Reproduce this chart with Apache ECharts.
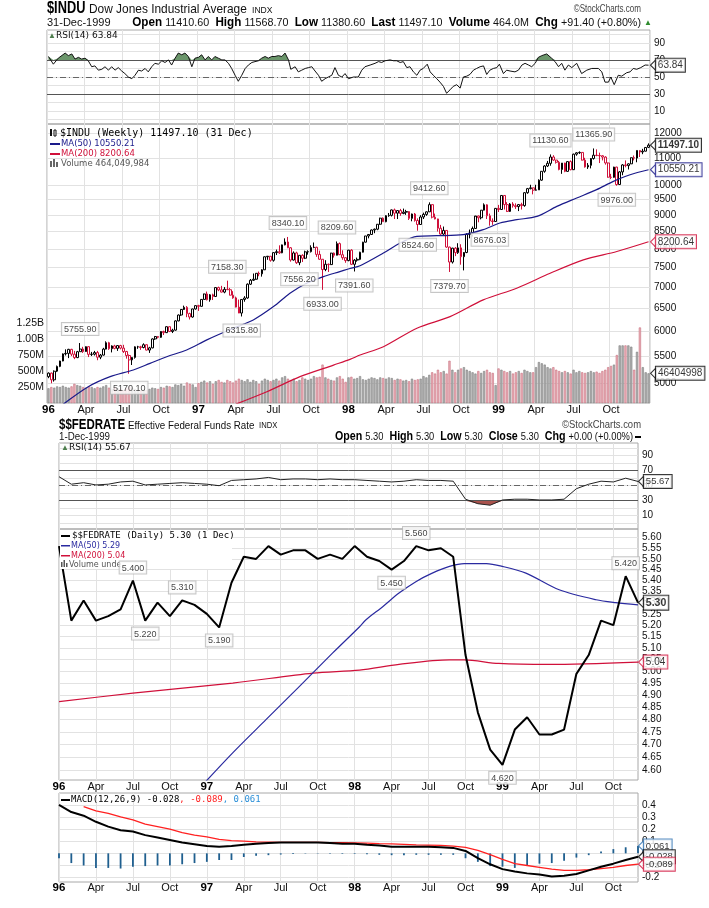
<!DOCTYPE html>
<html><head><meta charset="utf-8">
<script src="https://cdn.jsdelivr.net/npm/echarts@6/dist/echarts.min.js"></script>
<style>html,body{margin:0;padding:0;background:#fff}#c{width:709px;height:908px}</style>
</head><body><div id="c"></div>
<script>
// ===================== DATA =====================
// Weekly $INDU candles, Jan 5 1996 .. Dec 31 1999 (209 weeks)
const weekOpen = [5117,5181,5061,5216,5304,5405,5541,5551,5630,5536,5470,5584,5636,5587,5683,5532,5535,5567,5478,5518,5635,5762,5643,5697,5649,5705,5655,5588,5510,5426,5473,5680,5681,5666,5722,5616,5659,5839,5888,5872,5993,5969,6094,5993,6021,6219,6348,6472,6521,6380,6304,6484,6560,6544,6704,6833,6696,6813,6773,6988,6931,6878,6945,6935,6804,6740,6526,6392,6703,6738,7071,7169,7194,7345,7331,7435,7782,7797,7687,7896,7921,7890,8113,8195,8031,7694,7887,7622,7822,7742,7917,7922,8038,8045,7847,7715,7442,7581,7572,7882,7823,8149,7838,7757,7679,7965,7580,7691,7712,7907,8190,8370,8413,8546,8570,8719,8907,8797,8984,8995,9167,9064,9147,9055,9096,9114,8900,9037,8834,8712,8944,9025,9106,9338,8938,8883,8598,8425,8533,8051,7640,8020,7895,8028,7784,7900,8416,8452,8592,8975,8919,9159,9333,8982,8821,8804,9217,9181,9643,9340,9120,9358,9304,9274,9340,9307,9736,9876,9904,9822,9832,10173,10493,10689,10789,11031,10913,10829,10560,10800,10490,10855,10552,11140,11193,11209,10911,10655,10714,10973,11100,11090,11079,11028,10803,10279,10273,10649,10019,10470,10729,10704,10770,11003,10989,11286,11225,11257,11410.6];
const weekHigh = [5194,5190,5230,5320,5410,5550,5630,5640,5640,5600,5600,5755.9,5680,5690,5690,5580,5600,5600,5540,5660,5790,5780,5710,5720,5710,5720,5720,5600,5530,5480,5690,5700,5700,5750,5730,5680,5850,5900,5900,6000,6010,6100,6100,6050,6230,6360,6480,6560,6550,6400,6490,6570,6580,6710,6840,6890,6830,6840,6990,7010,7030,7000,7158.3,6980,6900,6770,6700,6710,6780,7090,7200,7340,7350,7390,7450,7790,7800,7800,7900,7980,8100,8120,8300,8340.1,8050,7930,7920,7830,7850,7950,7960,8100,8180,8060,7950,7720,7690,7600,7890,7900,8209.6,8180,7960,7770,7970,7990,7720,7760,7920,8200,8370,8420,8560,8590,8720,8920,8930,9000,9070,9180,9210,9140,9200,9210,9170,9130,9050,9070,8900,9000,9080,9120,9412.6,9350,9050,8890,8700,8650,8540,8060,8030,8050,8160,8130,7800,8450,8560,8650,8960,8990,9160,9380,9350,9050,8900,9230,9330,9650,9650,9420,9390,9420,9380,9360,9400,9750,9900,10010,9910,10010,10200,10500,10720,10880,11130.6,11100,10920,10880,10800,10810,10860,10900,11160,11220,11250,11220,11000,10800,10990,11365.9,11330,11200,11100,11060,10820,10400,10660,10660,10500,10760,10900,10790,11010,11090,11290,11290,11350,11420,11568.7];
const weekLow = [5090,5000,5030,5200,5290,5400,5510,5460,5500,5440,5460,5580,5560,5580,5480,5500,5510,5420,5440,5510,5630,5620,5570,5630,5600,5630,5560,5450,5170.1,5330,5450,5640,5620,5650,5610,5560,5650,5820,5850,5860,5920,5960,5980,5960,6010,6210,6330,6460,6300,6250,6290,6470,6440,6540,6700,6680,6650,6690,6760,6900,6870,6850,6930,6800,6720,6520,6390,6315.8,6650,6720,7050,7150,7180,7270,7260,7430,7700,7650,7650,7830,7860,7880,8100,8020,7650,7680,7590,7556.2,7640,7720,7840,7900,8020,7780,7700,6933,7400,7380,7560,7760,7820,7830,7700,7620,7660,7560,7391.6,7650,7690,7900,8180,8300,8400,8450,8540,8700,8800,8780,8950,8960,8880,8880,8980,9030,9010,8850,8810,8800,8524.6,8700,8880,8980,9100,8900,8870,8500,8400,8400,8030,7379.7,7600,7800,7860,7570,7420,7880,8300,8350,8580,8780,8870,9150,8880,8676.03,8700,8800,9100,9170,9180,9100,9100,9240,9200,9130,9180,9270,9700,9850,9680,9810,9830,10150,10440,10650,10700,10880,10780,10530,10400,10460,10480,10530,10540,11080,11150,10900,10630,10580,10600,10930,11060,10800,10900,10740,10260,10210,10260,9976,10000,10350,10640,10560,10760,10900,10830,11030,11140,11250,11380.6];
const weekClose = [5181,5061,5216,5304,5405,5541,5551,5630,5536,5470,5584,5636,5587,5683,5532,5535,5567,5478,5518,5635,5762,5643,5697,5649,5705,5655,5588,5510,5426,5473,5680,5681,5666,5722,5616,5659,5839,5888,5872,5993,5969,6094,5993,6021,6219,6348,6472,6521,6380,6304,6484,6560,6544,6704,6833,6696,6813,6773,6988,6931,6878,6945,6935,6804,6740,6526,6392,6703,6738,7071,7169,7194,7345,7331,7435,7782,7797,7687,7896,7921,7890,8113,8195,8031,7694,7887,7622,7822,7742,7917,7922,8038,8045,7847,7715,7442,7581,7572,7882,7823,8149,7838,7757,7679,7965,7580,7691,7712,7907,8190,8370,8413,8546,8570,8719,8907,8797,8984,8995,9167,9064,9147,9055,9096,9114,8900,9037,8834,8712,8944,9025,9106,9338,8938,8883,8598,8425,8533,8051,7640,8020,7895,8028,7784,7900,8416,8452,8592,8975,8919,9159,9333,8982,8821,8804,9217,9181,9643,9340,9120,9358,9304,9274,9340,9307,9736,9876,9904,9822,9832,10173,10493,10689,10789,11031,10913,10829,10560,10800,10490,10855,10552,11140,11193,11209,10911,10655,10714,10973,11100,11090,11079,11028,10803,10279,10273,10649,10019,10470,10729,10704,10770,11003,10989,11286,11225,11257,11405,11497.1];
// weekly volume, millions
const weekVolume = [230,250,240,260,250,270,250,240,260,300,280,270,250, 240,260,250,230,250,240,260,280,240,220,250,230,220, 200,230,260,240,220,200,190,210,200,220,240,230,220, 250,240,270,260,250,290,280,300,270,320,300,290,250, 310,330,350,320,340,300,340,360,330,320,360,340,320, 350,380,360,340,370,330,360,340,300,350,380,360,340, 360,380,350,400,420,380,360,380,340,360,400,380,360, 380,420,400,410,600,400,380,360,350,400,420,380,330, 400,410,380,390,420,370,360,380,400,390,370,400,390, 380,400,390,360,380,370,350,360,340,380,360,370,380, 420,400,440,480,460,520,480,500,460,660,520,480,520, 540,560,520,500,480,460,500,470,500,520,480,470,280, 540,520,500,480,500,460,480,500,470,520,500,480,480, 560,640,620,600,560,540,560,520,500,480,500,480,460, 520,480,500,480,470,480,500,480,490,470,500,520,560, 580,600,750,900,900,900,900,880,520,800,1180,560,480,464.05];
// [week index, value] readings
const ma50Weekly = [[5.2,4650],[13.8,4940],[21.4,5117],[29.4,5238],[35.2,5361],[41,5487],[47.9,5617],[54.9,5819],[64.1,6062],[71,6240],[78,6538],[83.7,6851],[89.5,7094],[95.3,7260],[101,7388],[104.5,7470],[108,7540],[116.1,7883],[121.9,8165],[127.7,8357],[134.6,8377],[143.8,8406],[150.7,8555],[156.5,8758],[162.3,8859],[169.3,8962],[176.2,9281],[183.1,9558],[190,9840],[195.8,10129],[201.6,10369],[208,10550.21]];
const ma200Weekly = [[65,4650],[75.7,4855],[87.2,5117],[98.8,5329],[104.5,5436],[108,5519],[116.1,5682],[127.7,6062],[139.2,6312],[150.7,6693],[162.3,6972],[173.9,7347],[185.4,7699],[197,7928],[208,8200.64]];
const rsiWeekly = [[0,74],[1.7,65],[3.4,72],[5.8,78],[6.9,75],[8.1,77],[9.2,71],[10.4,73],[11.5,71],[12.7,72],[13.8,69],[15,62],[16.1,63],[17.3,58],[18.5,59],[19.6,62],[20.8,58],[21.9,62],[23.1,58],[24.2,61],[25.4,57],[26.5,54],[27.7,50],[28.9,48],[30,52],[31.2,58],[32.3,57],[33.5,60],[34.6,56],[35.8,62],[36.9,66],[38.1,65],[39.3,69],[40.4,67],[41.6,70],[42.7,64],[43.9,72],[45,78],[46.2,76],[47.3,78],[48.5,74],[49.7,62],[50.8,72],[52,73],[53.1,76],[54.3,70],[55.4,74],[56.6,70],[57.7,74],[58.9,72],[60.1,70],[61.2,70],[62.4,66],[63.5,60],[64.7,52],[65.8,45],[67,52],[68.2,60],[69.3,64],[70.5,67],[71.6,68],[72.8,69],[73.9,72],[75.1,74],[76.2,72],[77.4,74],[78.5,74],[79.7,75],[80.9,74],[82,78],[83.2,70],[84,59],[85.5,62],[86.6,56],[87.8,58],[89,60],[90.1,61],[91.3,62],[92.4,57],[93.6,52],[94.7,45],[95.9,48],[97,50],[98.2,52],[99.3,61],[100.5,52],[101.7,50],[102.8,54],[104,48],[105.7,50],[107.4,50],[108.6,58],[109.7,62],[111.5,64],[113.2,66],[114.4,68],[115.5,67],[116.7,69],[118.4,70],[119.6,69],[120.7,69],[121.9,67],[123,68],[124.2,61],[125.3,62],[126.5,56],[127.7,52],[128.8,58],[129.9,60],[131.3,65],[132.3,56],[133.4,52],[134.6,48],[135.7,44],[136.9,39],[138,31],[139.2,35],[140.3,39],[141.5,41],[142.7,37],[143.8,50],[145,51],[146.1,53],[147.3,58],[148.4,60],[149.6,62],[150.8,63],[151.9,53],[153,58],[154.2,60],[155.4,61],[156.3,65],[157.7,54],[158.8,58],[160,57],[161.7,56],[162.9,58],[164.1,64],[165.2,66],[166.4,64],[167.5,62],[168.7,66],[169.8,73],[171,75],[172.7,77],[174.4,72],[175.6,68],[176.8,62],[177.9,66],[179,58],[180.2,64],[181.4,61],[183.1,66],[184.8,54],[186.6,58],[188.3,60],[190.6,60],[191.8,56],[192.9,44],[194.1,44],[194.9,50],[196.1,41],[197.5,52],[198.7,51],[200.4,55],[201.6,56],[202.7,60],[203.9,59],[205.3,61],[206.8,64],[208,63.84]];
const priceNoteWeeks = [11,28,62,67,83,87,95,100,106,128,132,139,153,174,189,197];
const priceNoteValues = [5755.90,5170.10,7158.30,6315.80,8340.10,7556.20,6933.00,8209.60,7391.60,8524.60,9412.60,7379.70,8676.03,11130.60,11365.90,9976.00];
const volumeLastText = '46404998';

// Monthly $$FEDRATE, Jan 1996 .. Dec 1999 (48 months)
const fedRate = [5.56,5.22,5.31,5.22,5.24,5.27,5.40,5.22,5.30,5.24,5.31,5.29, 5.25,5.19,5.39,5.51,5.50,5.56,5.52,5.54,5.54,5.50,5.52,5.50, 5.56,5.51,5.49,5.45,5.49,5.56,5.54,5.55,5.51,5.07,4.83,4.68, 4.62,4.76,4.81,4.74,4.74,4.76,4.99,5.07,5.22,5.20,5.42,5.30];
const fedMa50 = [[11.5,4.534],[14.1,4.667],[16.8,4.800],[19.5,4.936],[22.2,5.078],[24.4,5.193],[24.9,5.223],[26.3,5.283],[27.6,5.343],[29.0,5.396],[30.3,5.434],[31.7,5.465],[32.9,5.478],[34.7,5.478],[36.0,5.465],[37.9,5.434],[40.6,5.358],[43.6,5.313],[45.2,5.30],[47,5.29]];
const fedMa200 = [[0,4.874],[6,4.909],[14.1,4.951],[20.6,4.993],[24.4,5.006],[27.6,5.030],[31.7,5.049],[32.9,5.049],[35.7,5.034],[39.8,5.030],[47,5.04]];
const fedNoteMonths = [6,7,10,13,27,29,36,46];
const fedRsi = [62,52,54,51,52,55,56,51,52,53,54,53, 52,50,57,58,59,61,58,59,59,58,59,58, 58,57,56,55,56,58,57,57,56,32,26,24, 31,32,32,31,31,32,46,52,56,55,60,55.67];
const macdLine = [0.40,0.34,0.31,0.26,0.22,0.19,0.18,0.15,0.13,0.11,0.09,0.075, 0.06,0.055,0.06,0.07,0.08,0.085,0.09,0.09,0.09,0.09,0.085,0.08, 0.08,0.07,0.065,0.055,0.055,0.055,0.055,0.05,0.045,0.02,-0.04,-0.09, -0.13,-0.15,-0.165,-0.175,-0.19,-0.185,-0.17,-0.14,-0.11,-0.085,-0.055,-0.028];
const macdSignal = [null,null,0.385,0.35,0.33,0.30,0.275,0.24,0.22,0.20,0.17,0.15, 0.135,0.115,0.105,0.10,0.095,0.093,0.09,0.09,0.09,0.09,0.089,0.088, 0.087,0.084,0.08,0.078,0.074,0.07,0.068,0.065,0.06,0.05,0.025,-0.01, -0.05,-0.085,-0.10,-0.115,-0.13,-0.14,-0.14,-0.135,-0.125,-0.115,-0.10,-0.089];
const macdHist = [-0.04,-0.08,-0.10,-0.12,-0.12,-0.125,-0.11,-0.105,-0.10,-0.10,-0.09,-0.08, -0.07,-0.055,-0.055,-0.03,-0.02,-0.015,-0.01,-0.005,-0.003,-0.003,-0.004,-0.005, -0.005,-0.008,-0.012,-0.015,-0.015,-0.012,-0.012,-0.012,-0.012,-0.04,-0.07,-0.105, -0.11,-0.12,-0.10,-0.085,-0.08,-0.06,-0.035,-0.015,0.015,0.035,0.05,0.061];

const priceTicks = [5000,5500,6000,6500,7000,7500,8000,8500,9000,9500,10000,11000,12000];
const rsiTicks = [10,30,50,70,90];
const volTicks = [250,500,750,1000,1250];
const volTickText = ['250M','500M','750M','1.00B','1.25B'];
const fedTicks = [4.60,4.65,4.70,4.75,4.80,4.85,4.90,4.95,5.00,5.05,5.10,5.15,5.20,5.25,5.30,5.35,5.40,5.45,5.50,5.55,5.60];
const macdTicks = [-0.2,-0.1,0,0.1,0.2,0.3,0.4];
const monthNames = ['Jan','Feb','Mar','Apr','May','Jun','Jul','Aug','Sep','Oct','Nov','Dec'];

// ===================== BUILD =====================
const L = v => Math.log10(v);
const weekDates = [];
for (let i = 0; i < weekClose.length; i++) weekDates.push(new Date(Date.UTC(1996,0,5) + i*7*86400000));
const weekCats = weekDates.map(d => d.toISOString().slice(0,10));
const monthDates = [];
for (let i = 0; i < fedRate.length; i++) monthDates.push(new Date(Date.UTC(1996 + Math.floor(i/12), i%12, 1)));
const monthCats = monthDates.map(d => d.toISOString().slice(0,10));
const isWeekQ = i => { const m = weekDates[i].getUTCMonth(); return m%3===0 && (i===0 || weekDates[i-1].getUTCMonth()!==m); };
const isMonthQ = i => monthDates[i].getUTCMonth()%3===0;
const qText = d => { const m = d.getUTCMonth(); return m===0 ? '{b|' + String(d.getUTCFullYear()).slice(2) + '}' : monthNames[m]; };

const SANS = '"Liberation Sans", Arial, sans-serif';
const NARROW = '"Liberation Sans Narrow", "Liberation Sans", sans-serif';
const DV = '"DejaVu Sans", sans-serif';
const MONO = '"DejaVu Sans Mono", monospace';
const RED = '#d0103a', NAVY = '#1a1a8a', GRID = '#e2e2e2', BORDER = '#a8a8a8';
const HIDE = 'rgba(0,0,0,0)';

const candleData = weekClose.map((c,i) => {
  const o = weekOpen[i], prev = i ? weekClose[i-1] : o;
  const col = c >= prev ? '#000' : RED;
  return { value:[L(o),L(c),L(weekLow[i]),L(weekHigh[i])], itemStyle:{color:'#fff', color0:col, borderColor:col, borderColor0:col, borderWidth:1} };
});
const volData = weekVolume.map((v,i) => {
  const down = i && weekClose[i] < weekClose[i-1];
  return { value:v, itemStyle:{ color: down ? '#eab0b8' : '#b0b0b0', borderColor: down ? '#c87080' : '#808080', borderWidth:0.6 } };
});
const noteLabel = (pos) => ({show:true, position:pos, distance:6, color:'#111', fontSize:9, fontFamily:SANS, backgroundColor:'#fff', borderColor:'#b8b8b8', borderWidth:1, padding:[2,2,1,2]});
const priceNotes = priceNoteWeeks.map((w,k) => {
  const v = priceNoteValues[k];
  const pos = Math.abs(v - weekHigh[w]) < Math.abs(v - weekLow[w]) ? 'top' : 'bottom';
  return { value:[w, L(v)], raw:v, label: noteLabel(pos) };
});
const fedNotes = fedNoteMonths.map(m => {
  const v = fedRate[m];
  const pos = (v >= fedRate[m-1] && v >= fedRate[m+1]) ? 'top' : 'bottom';
  return { value:[m, L(v)], raw:v, label: Object.assign(noteLabel(pos), {distance:5}) };
});
const tag = (text, color, bold, fs) => ({show:true, position:'right', distance:0, formatter:text, color:'#000', fontSize:fs||10, fontWeight:bold?'bold':'normal', fontFamily:SANS, backgroundColor:'#fff', borderColor:color, borderWidth:1, padding:[2,2,1,2]});
const tagSeries = (xi, yi, pt, label, color, off, z) => ({type:'scatter', xAxisIndex:xi, yAxisIndex:yi, data:[pt], symbol:'triangle', symbolRotate:90, symbolSize:[10,5], symbolOffset:[off,0],
  itemStyle:{color:'#fff', borderColor:color, borderWidth:1}, label:label, clip:false, silent:true, z:z||20});

const rsiHigh = rsiWeekly.map(p => [p[0], Math.max(70, p[1])]);
const fedRsiLow = fedRsi.map(r => Math.min(r,30));

const refLines = (c) => ({silent:true, symbol:['none','none'], label:{show:false}, animation:false,
  data:[{yAxis:70, lineStyle:{color:c, width:1, type:'solid'}},{yAxis:30, lineStyle:{color:c, width:1, type:'solid'}},{yAxis:50, lineStyle:{color:'#666', width:1, type:[6,3,1,3]}}]});

const gridBase = {show:true, borderColor:BORDER, borderWidth:1, backgroundColor:'transparent', containLabel:false, outerBoundsMode:'none'};
const catX = (gi, cats, bg, labels, intervalFn, labelMargin) => ({
  type:'category', gridIndex:gi, data:cats, boundaryGap:bg,
  axisLine:{show:false}, axisTick:{show:false},
  axisLabel: labels ? {show:true, interval:(i)=>intervalFn(i), margin:labelMargin, fontSize:11, fontFamily:SANS, color:'#111',
     formatter:(v)=>qText(new Date(v+'T00:00:00Z')), rich:{b:{fontWeight:'bold', fontSize:11.5, fontFamily:SANS, color:'#000'}}} : {show:false},
  splitLine:{show:true, interval:(i)=>intervalFn(i), lineStyle:{color:GRID, width:1}}
});
const valX = (gi, min, max) => ({type:'value', gridIndex:gi, min:min, max:max, show:false, splitLine:{show:false}});
const rightY = (gi, min, max, ticks, grid, fmt) => ({
  type:'value', gridIndex:gi, position:'right', min:min, max:max, scale:true,
  axisLine:{show:false}, axisTick:{show:false, customValues:grid},
  axisLabel:{show:true, customValues:ticks, margin:4, fontSize:10, fontFamily:SANS, color:'#111', formatter:fmt},
  splitLine:{show:true, lineStyle:{color:GRID, width:1}}
});
const lastW = weekCats.length - 0.5, lastM = monthCats.length - 1;

const option = {
  animation:false,
  backgroundColor:'#fff',
  grid:[
    Object.assign({left:47, top:30, width:603, height:94}, gridBase),
    Object.assign({left:47, top:124, width:603, height:279}, gridBase),
    Object.assign({}, gridBase, {show:false, left:47, top:303, width:603, height:100}),
    Object.assign({left:59, top:443, width:579, height:86}, gridBase),
    Object.assign({left:59, top:529, width:579, height:251}, gridBase),
    Object.assign({left:59, top:793, width:579, height:89}, gridBase)
  ],
  xAxis:[
    catX(0, weekCats, true, false, isWeekQ),
    valX(0, -0.5, weekCats.length-0.5),
    catX(1, weekCats, true, true, isWeekQ, 1),
    valX(1, -0.5, weekCats.length-0.5),
    Object.assign(catX(2, weekCats, true, false, isWeekQ), {splitLine:{show:false}}),
    catX(3, monthCats, false, false, isMonthQ),
    catX(4, monthCats, false, true, isMonthQ, 1),
    valX(4, 0, monthCats.length-1),
    catX(5, monthCats, false, true, isMonthQ, 0)
  ],
  yAxis:[
    rightY(0, -5, 105, rsiTicks, [0,10,20,30,40,50,60,70,80,90,100], v=>String(v)),
    rightY(1, L(4667), L(12380), priceTicks.map(L), priceTicks.map(L), v=>String(Math.round(Math.pow(10,v)))),
    {type:'value', gridIndex:2, position:'left', min:0, max:1562.5, axisLine:{show:false}, axisTick:{show:false, customValues:volTicks},
      axisLabel:{show:true, customValues:volTicks, margin:3, fontSize:10.5, fontFamily:SANS, color:'#111', formatter:v=>volTickText[volTicks.indexOf(Math.round(v))]||''},
      splitLine:{show:false}},
    rightY(3, -7.7, 106.9, rsiTicks, [0,10,20,30,40,50,60,70,80,90,100], v=>String(v)),
    rightY(4, L(4.561), L(5.641), fedTicks.map(L), fedTicks.map(L), v=>Math.pow(10,v).toFixed(2)),
    rightY(5, -0.236, 0.497, macdTicks, macdTicks, v=>String(Math.round(v*10)/10))
  ],
  series:[
    // upper RSI
    {type:'line', xAxisIndex:1, yAxisIndex:0, data:rsiHigh, symbol:'none', lineStyle:{width:0, color:HIDE}, areaStyle:{color:'#6b966b', opacity:1, origin:70}, silent:true, z:2},
    {type:'line', xAxisIndex:1, yAxisIndex:0, data:rsiWeekly, symbol:'none', lineStyle:{color:'#111', width:1}, markLine:refLines('#555'), z:5},
    // price
    {type:'bar', xAxisIndex:4, yAxisIndex:2, data:volData, barWidth:2.2, z:1},
    {type:'candlestick', xAxisIndex:2, yAxisIndex:1, data:candleData, barWidth:2.2, z:3},
    {type:'line', xAxisIndex:3, yAxisIndex:1, data:ma50Weekly.map(p=>[p[0],L(p[1])]), symbol:'none', smooth:0.3, lineStyle:{color:NAVY, width:1.2}, z:4},
    {type:'line', xAxisIndex:3, yAxisIndex:1, data:ma200Weekly.map(p=>[p[0],L(p[1])]), symbol:'none', smooth:0.3, lineStyle:{color:RED, width:1.2}, z:4},
    {type:'scatter', xAxisIndex:3, yAxisIndex:1, data:priceNotes, symbol:'triangle', symbolSize:[6,4], itemStyle:{color:HIDE}, label:{formatter:p=>p.data.raw.toFixed(2)}, z:120, silent:true},
    // lower RSI
    {type:'line', xAxisIndex:5, yAxisIndex:3, data:fedRsiLow, symbol:'none', lineStyle:{width:0, color:HIDE}, areaStyle:{color:'#a8524c', opacity:1, origin:30}, silent:true, z:2},
    {type:'line', xAxisIndex:5, yAxisIndex:3, data:fedRsi, symbol:'none', lineStyle:{color:'#222', width:1}, markLine:refLines('#555'), z:5},
    // fed rate
    {type:'line', xAxisIndex:7, yAxisIndex:4, data:fedMa200.map(p=>[p[0],L(p[1])]), symbol:'none', smooth:0.3, lineStyle:{color:RED, width:1.2}, z:3},
    {type:'line', xAxisIndex:7, yAxisIndex:4, data:fedMa50.map(p=>[p[0],L(p[1])]), symbol:'none', smooth:0.3, lineStyle:{color:'#2a2aa0', width:1.2}, z:3},
    {type:'line', xAxisIndex:6, yAxisIndex:4, data:fedRate.map(L), symbol:'none', lineStyle:{color:'#000', width:2}, z:4},
    {type:'scatter', xAxisIndex:7, yAxisIndex:4, data:fedNotes, symbol:'triangle', symbolSize:[6,4], itemStyle:{color:HIDE}, label:{formatter:p=>p.data.raw.toFixed(3)}, z:120, silent:true},
    // MACD
    {type:'bar', xAxisIndex:8, yAxisIndex:5, data:macdHist, barWidth:1.8, itemStyle:{color:'#1f5f8f'}, z:2},
    {type:'line', xAxisIndex:8, yAxisIndex:5, data:macdSignal, symbol:'none', lineStyle:{color:'#ff2020', width:1.3}, z:3},
    {type:'line', xAxisIndex:8, yAxisIndex:5, data:macdLine, symbol:'none', lineStyle:{color:'#000', width:2}, z:4},
    // value tags
    tagSeries(1, 0, [lastW, rsiWeekly[rsiWeekly.length-1][1]], tag(rsiWeekly[rsiWeekly.length-1][1].toFixed(2), '#000', false, 10), '#000', 3),
    tagSeries(3, 1, [lastW, L(ma50Weekly[ma50Weekly.length-1][1])], tag(ma50Weekly[ma50Weekly.length-1][1].toFixed(2), NAVY, false, 10), NAVY, 3),
    tagSeries(3, 1, [lastW, L(ma200Weekly[ma200Weekly.length-1][1])], tag(ma200Weekly[ma200Weekly.length-1][1].toFixed(2), RED, false, 10), RED, 3),
    tagSeries(3, 1, [lastW, L(weekClose[weekClose.length-1])], tag(weekClose[weekClose.length-1].toFixed(2), '#000', true, 10), '#000', 3),
    {type:'scatter', xAxisIndex:4, yAxisIndex:2, data:[[weekCats.length-1, weekVolume[weekVolume.length-1]]], symbol:'triangle', symbolRotate:90, symbolSize:[10,5], symbolOffset:[4.5,0],
      itemStyle:{color:'#fff', borderColor:'#000', borderWidth:1}, label:tag(volumeLastText, '#000', false, 10), clip:false, silent:true, z:20},
    tagSeries(5, 3, [lastM, fedRsi[fedRsi.length-1]], tag(fedRsi[fedRsi.length-1].toFixed(2), '#000', false, 9.5), '#000', 3),
    tagSeries(7, 4, [lastM, L(fedMa200[fedMa200.length-1][1])], tag(fedMa200[fedMa200.length-1][1].toFixed(2), RED, false, 10), RED, 3),
    tagSeries(7, 4, [lastM, L(fedRate[fedRate.length-1])], tag(fedRate[fedRate.length-1].toFixed(2), '#000', true, 10.5), '#000', 3),
    tagSeries(8, 5, [lastM, macdHist[macdHist.length-1]], tag(macdHist[macdHist.length-1].toFixed(3), '#2a6fb0', false, 9.5), '#2a6fb0', 3, 20),
    tagSeries(8, 5, [lastM, macdLine[macdLine.length-1]], tag(macdLine[macdLine.length-1].toFixed(3), '#000', false, 9.5), '#000', 3, 21),
    tagSeries(8, 5, [lastM, macdSignal[macdSignal.length-1]], tag(macdSignal[macdSignal.length-1].toFixed(3), RED, false, 9.5), RED, 3, 22)
  ],
  graphic:{elements:[
    // upper header
    {type:'text', x:47, y:9, scaleX:0.8, z:100, style:{text:'$INDU', verticalAlign:'middle', fontSize:16, fontWeight:'bold', fontFamily:NARROW, fill:'#000'}},
    {type:'text', x:89, y:9.5, scaleX:0.915, z:100, style:{text:'Dow Jones Industrial Average', verticalAlign:'middle', fontSize:13, fontFamily:NARROW, fill:'#111'}},
    {type:'text', x:252, y:10, scaleX:0.9, z:100, style:{text:'INDX', verticalAlign:'middle', fontSize:9.5, fontFamily:NARROW, fill:'#111'}},
    {type:'text', x:641, y:9, scaleX:0.7, z:100, style:{text:'©StockCharts.com', align:'right', verticalAlign:'middle', fontSize:11.5, fontFamily:NARROW, fill:'#444'}},
    {type:'text', x:47, y:23, z:100, style:{text:'31-Dec-1999', verticalAlign:'middle', fontSize:11, fontFamily:NARROW, fill:'#111'}},
    {type:'text', x:641, y:23, scaleX:0.934, z:100, style:{align:'right', verticalAlign:'middle',
      text:'{k|Open} {v|11410.60}  {k|High} {v|11568.70}  {k|Low} {v|11380.60}  {k|Last} {v|11497.10}  {k|Volume} {v|464.0M}  {k|Chg} {v|+91.40 (+0.80%)}',
      rich:{k:{fontSize:12.5, fontWeight:'bold', fontFamily:NARROW, fill:'#000'}, v:{fontSize:11.5, fontFamily:NARROW, fill:'#111'}}}},
    {type:'text', x:644, y:23, z:100, style:{text:'▲', verticalAlign:'middle', fontSize:8, fill:'#2e8b2e'}},
    // upper RSI legend
    {type:'text', x:48, y:36, z:100, style:{text:'▲', verticalAlign:'middle', fontSize:8, fill:'#4f7f4f'}},
    {type:'text', x:56, y:36, z:100, style:{text:'RSI(14) 63.84', verticalAlign:'middle', fontSize:9, fontFamily:DV, fill:'#111'}},
    // price legend
    {type:'rect', z:100, shape:{x:50, y:129, width:2, height:7}, style:{fill:'#111'}},
    {type:'rect', z:100, shape:{x:54, y:130, width:2, height:6}, style:{fill:'#fff', stroke:'#111', lineWidth:1}},
    {type:'text', x:60, y:133, z:100, style:{text:'$INDU (Weekly) 11497.10 (31 Dec)', verticalAlign:'middle', fontSize:10, fontFamily:MONO, fill:'#000'}},
    {type:'rect', z:100, shape:{x:50, y:143, width:10, height:2}, style:{fill:NAVY}},
    {type:'text', x:61, y:144, z:100, style:{text:'MA(50) 10550.21', verticalAlign:'middle', fontSize:8.5, fontFamily:DV, fill:NAVY}},
    {type:'rect', z:100, shape:{x:50, y:153, width:10, height:2}, style:{fill:RED}},
    {type:'text', x:61, y:154, z:100, style:{text:'MA(200) 8200.64', verticalAlign:'middle', fontSize:8.5, fontFamily:DV, fill:RED}},
    {type:'rect', z:100, shape:{x:50, y:161, width:2, height:6}, style:{fill:'#666'}},
    {type:'rect', z:100, shape:{x:53, y:159, width:2, height:8}, style:{fill:'#666'}},
    {type:'rect', z:100, shape:{x:56, y:162, width:2, height:5}, style:{fill:'#666'}},
    {type:'text', x:61, y:164, z:100, style:{text:'Volume 464,049,984', verticalAlign:'middle', fontSize:8.5, fontFamily:DV, fill:'#555'}},
    // lower header
    {type:'text', x:59, y:425, scaleX:0.82, z:100, style:{text:'$$FEDRATE', verticalAlign:'middle', fontSize:14, fontWeight:'bold', fontFamily:NARROW, fill:'#000'}},
    {type:'text', x:128, y:425.5, scaleX:0.85, z:100, style:{text:'Effective Federal Funds Rate', verticalAlign:'middle', fontSize:11.5, fontFamily:NARROW, fill:'#111'}},
    {type:'text', x:259, y:426, scaleX:0.9, z:100, style:{text:'INDX', verticalAlign:'middle', fontSize:8.5, fontFamily:NARROW, fill:'#111'}},
    {type:'text', x:641, y:425, scaleX:0.9, z:100, style:{text:'©StockCharts.com', align:'right', verticalAlign:'middle', fontSize:10.5, fontFamily:NARROW, fill:'#444'}},
    {type:'text', x:59, y:437, scaleX:0.93, z:100, style:{text:'1-Dec-1999', verticalAlign:'middle', fontSize:10.5, fontFamily:NARROW, fill:'#111'}},
    {type:'text', x:633, y:437, scaleX:0.89, z:100, style:{align:'right', verticalAlign:'middle',
      text:'{k|Open} {v|5.30}  {k|High} {v|5.30}  {k|Low} {v|5.30}  {k|Close} {v|5.30}  {k|Chg} {v|+0.00 (+0.00%)}',
      rich:{k:{fontSize:12, fontWeight:'bold', fontFamily:NARROW, fill:'#000'}, v:{fontSize:10.5, fontFamily:NARROW, fill:'#111'}}}},
    {type:'rect', z:100, shape:{x:635, y:436, width:6, height:2}, style:{fill:'#000'}},
    // lower RSI legend
    {type:'text', x:61, y:448, z:100, style:{text:'▲', verticalAlign:'middle', fontSize:8, fill:'#4f7f4f'}},
    {type:'text', x:69, y:448, z:100, style:{text:'RSI(14) 55.67', verticalAlign:'middle', fontSize:9, fontFamily:DV, fill:'#111'}},
    // fed legend
    {type:'rect', z:100, shape:{x:60, y:531, width:172, height:38}, style:{fill:'#fff'}},
    {type:'rect', z:101, shape:{x:61, y:535, width:9, height:2}, style:{fill:'#000'}},
    {type:'text', x:72, y:536, z:101, style:{text:'$$FEDRATE (Daily) 5.30 (1 Dec)', verticalAlign:'middle', fontSize:9, fontFamily:MONO, fill:'#000'}},
    {type:'rect', z:101, shape:{x:61, y:545, width:9, height:1.5}, style:{fill:'#2a2aa0'}},
    {type:'text', x:71, y:546, z:101, style:{text:'MA(50) 5.29', verticalAlign:'middle', fontSize:8, fontFamily:DV, fill:'#2a2aa0'}},
    {type:'rect', z:101, shape:{x:61, y:555, width:9, height:1.5}, style:{fill:RED}},
    {type:'text', x:71, y:556, z:101, style:{text:'MA(200) 5.04', verticalAlign:'middle', fontSize:8, fontFamily:DV, fill:RED}},
    {type:'rect', z:101, shape:{x:61, y:562, width:1.5, height:5}, style:{fill:'#555'}},
    {type:'rect', z:101, shape:{x:63.5, y:560, width:1.5, height:7}, style:{fill:'#555'}},
    {type:'rect', z:101, shape:{x:66, y:563, width:1.5, height:4}, style:{fill:'#555'}},
    {type:'text', x:69, y:564.5, z:101, style:{text:'Volume unde', verticalAlign:'middle', fontSize:8, fontFamily:DV, fill:'#555'}},
    // MACD legend
    {type:'rect', z:100, shape:{x:61, y:799, width:9, height:2}, style:{fill:'#000'}},
    {type:'text', x:71, y:800, z:100, style:{verticalAlign:'middle', text:'{a|MACD(12,26,9) -0.028}{r|, -0.089}{u|, 0.061}', rich:{
      a:{fontSize:9, fontFamily:MONO, fill:'#000'}, r:{fontSize:9, fontFamily:MONO, fill:'#ff2020'}, u:{fontSize:9, fontFamily:MONO, fill:'#2a8fd8'}}}}
  ]}
};
const chart = echarts.init(document.getElementById('c'), null, {renderer:'canvas'});
chart.setOption(option);
</script></body></html>
